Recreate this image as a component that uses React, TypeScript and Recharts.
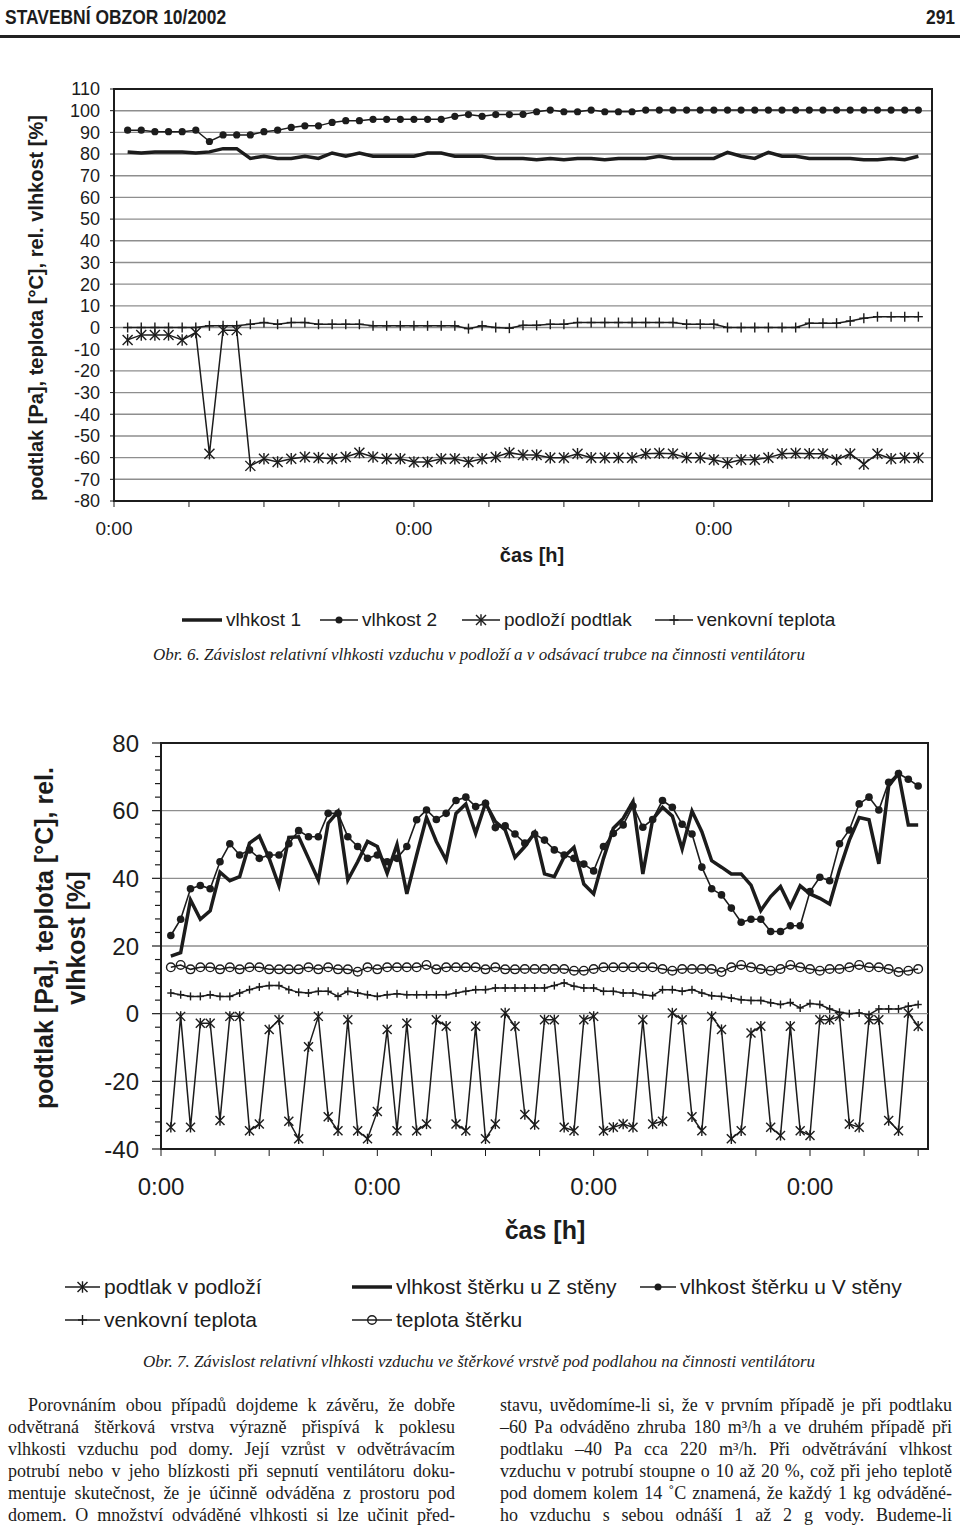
import React from "react";
import { LineChart, Line, XAxis, YAxis, CartesianGrid, ReferenceArea, ReferenceLine } from "recharts";

const INK = "#1c1c1c";
const GRID = "#8e8e8e";
const SANS = "'Liberation Sans', Arial, Helvetica, sans-serif";
const SERIF = "'Liberation Serif', 'Times New Roman', serif";

// ---- Obr. 6 (59 readings) ----
const vlhkost1 = [
  81, 80.5, 81, 81, 81, 80.5, 81, 82.5, 82.5, 78, 79, 78, 78, 79, 78, 80.5, 79, 80.5, 79, 79,
  79, 79, 80.5, 80.5, 79, 79, 79, 78, 78, 78, 77.4, 78, 77.4, 78, 78, 77.4, 78, 78, 78, 79,
  78, 78, 78, 78, 80.8, 79, 78, 80.8, 79, 79, 78, 78, 78, 78, 77.4, 77.4, 78, 77.4, 79,
];
const vlhkost2 = [
  91, 91, 90.3, 90.3, 90.3, 91, 85.8, 88.8, 88.8, 88.8, 90.3, 91, 92.3, 93, 93, 94.6, 95.4, 95.4, 96, 96,
  96, 96, 96, 96, 97.4, 98.2, 97.4, 98.2, 98.2, 98.3, 99.5, 100.3, 99.5, 99.5, 100.3, 99.5, 99.5, 99.5, 100.3, 100.3,
  100.3, 100.3, 100.3, 100.3, 100.3, 100.3, 100.3, 100.3, 100.3, 100.3, 100.3, 100.3, 100.3, 100.3, 100.3, 100.3, 100.3, 100.3, 100.3,
];
const podloziPodtlak = [
  -5.7, -3.4, -3.4, -3.4, -5.7, -2.3, -58.2, -1.2, -1.2, -63.8, -60.5, -62, -60.5, -59.7, -60, -60.5, -59.7, -57.7, -59.7, -60.5,
  -60.5, -62, -62, -60.5, -60.5, -62, -60.5, -59.7, -57.7, -58.8, -58.8, -60, -60, -58.2, -60, -60, -60, -60, -58.2, -58,
  -58.2, -60, -60, -61, -62.5, -61, -61, -60, -58.2, -58, -58.2, -58.2, -61, -58.2, -63, -58.2, -60.5, -60, -60,
];
const venkovniTeplota6 = [
  0, 0, 0, 0, 0, 0, 0.8, 0.8, 0.8, 1.5, 2.3, 1.5, 2.3, 2.3, 1.5, 1.5, 1.5, 1.5, 0.8, 0.8,
  0.8, 0.8, 0.8, 0.8, 0.8, -0.5, 0.8, 0, -0.3, 1, 1, 1.5, 1.5, 2.3, 2.3, 2.3, 2.3, 2.3, 2.3, 2.3,
  2.3, 1.5, 1.5, 1.5, 0, 0, 0, 0, 0, 0, 2, 2, 2, 3, 4.3, 5, 5, 5, 5,
];
const x6Ticks = [-1, 4.5, 10, 15.5, 21, 26.5, 32, 37.5, 43, 48.5, 54];
const x6Labels = [-1, 21, 43];
const y6Ticks = [-80, -70, -60, -50, -40, -30, -20, -10, 0, 10, 20, 30, 40, 50, 60, 70, 80, 90, 100, 110];

// ---- Obr. 7 (77 readings) ----
const podtlakPodlozi = [
  -33.6, -0.8, -33.6, -2.8, -2.8, -31.6, -0.8, -0.8, -34.6, -32.6, -4.7, -1.8, -31.8, -37, -9.8, -0.8, -30.5, -34.6, -1.8, -34.6,
  -37, -28.9, -4.7, -34.6, -2.8, -34.6, -32.6, -1.8, -3.7, -32.6, -34.6, -3.7, -37, -32.6, 0.2, -3.7,
  -29.8, -32.8, -1.8, -1.8, -33.6, -34.6, -1.8, -0.8, -34.6, -33.6, -32.6, -33.6, -1.8, -32.6, -31.8, 0.2, -1.8, -30.5, -34.6, -0.8,
  -4.7, -37, -34.6, -5.7, -3.7, -33.6, -36, -3.7, -34.6, -36, -1.8, -1.8, -0.8, -32.6, -33.6, -1.8, -1.8, -31.6, -34.6, 0.2, -3.7,
];
const vlhkostZ = [
  17, 18, 33.6, 27.9, 30.4, 41.8, 39.3, 40.5, 50.4, 52.5, 45.9, 37.8, 52.1, 52.3, 45.9, 39.5, 56.3, 59.7, 39.5, 44.9,
  50.9, 49.4, 41.5, 50, 35.4, 46.9, 58, 50.9, 45.4, 59.2, 62, 53.3, 62.2, 56.8, 54.3, 46.2,
  49.4, 53.5, 41.3, 40.5, 46.4, 49.2, 38.3, 35.4, 45.9, 54.8, 57.7, 62.7, 41.3, 57.4, 61, 58.4, 48.7, 59.9, 53.8, 45.2,
  43.3, 41.3, 41.3, 38, 30.5, 34.6, 37.6, 31.6, 37.8, 35.4, 34.1, 32.4, 42.5, 51.3, 58, 57.3, 44.3, 67.3, 71, 55.8, 55.8,
];
const vlhkostV = [
  23.1, 27.9, 36.9, 37.9, 36.9, 44.9, 50.2, 46.9, 48.4, 45.9, 46.9, 46.9, 50.2, 54.1, 52.3, 52.3, 59.2, 59.2, 52.3, 49.4,
  45.9, 46.9, 44.9, 45.9, 49.4, 57.3, 60.2, 57.4, 59.2, 63, 64, 61.2, 62.2, 55, 55.5, 53.1,
  50.4, 53.1, 51.3, 48.4, 46.9, 45.9, 44.2, 42.2, 49.4, 53.3, 55.8, 61.4, 55.1, 57.4, 63, 61, 56, 53.1, 43.3, 36.9,
  35.1, 31.2, 27, 27.9, 27.9, 24.3, 24.3, 26, 26, 36.1, 40.3, 39.3, 50.2, 54.3, 62, 64, 60.2, 68.4, 71, 69.3, 67.3,
];
const venkovniTeplota7 = [
  6.1, 5.6, 5.1, 5.1, 5.6, 5.1, 5.1, 6.1, 7.1, 7.9, 8.3, 8.3, 7.1, 6.3, 6.1, 6.6, 6.6, 5.1, 6.6, 6.1,
  5.6, 5.1, 5.6, 5.9, 5.6, 5.6, 5.6, 5.6, 5.6, 6.1, 6.6, 7.1, 7.1, 7.6, 7.6, 7.6,
  7.6, 7.6, 7.6, 8.3, 9.1, 8.1, 7.6, 7.6, 6.6, 6.6, 6.1, 6.1, 5.6, 5.3, 7.1, 7.1, 6.6, 7.1, 6.1, 5.3,
  5.1, 4.6, 4.1, 3.9, 3.9, 3.2, 2.7, 3.3, 1.7, 3, 2.7, 1.4, 0.4, 0, 0.2, -0.3, 1.4, 1.4, 1.4, 2.2, 2.7,
];
const teplotaSterku = [
  13.7, 14.4, 13.1, 13.7, 13.7, 13.1, 13.7, 13.1, 13.7, 13.7, 13.1, 13.1, 13.1, 13.1, 13.7, 13.1, 13.7, 13.1, 13.1, 12.4,
  13.7, 13.1, 13.7, 13.7, 13.7, 13.7, 14.4, 13.1, 13.7, 13.7, 13.7, 13.7, 13.1, 13.7, 13.1, 13.1,
  13.2, 13.2, 13.2, 13.2, 13.2, 12.7, 12.7, 13.2, 13.7, 13.7, 13.7, 13.7, 13.7, 13.7, 13.2, 12.7, 13.2, 13.2, 13.2, 13.2,
  12.3, 13.7, 14.4, 13.7, 13.2, 12.7, 13.2, 14.4, 13.7, 13.2, 12.7, 13.2, 13.2, 13.7, 14.4, 13.7, 13.7, 13.2, 12.3, 12.7, 13.2,
];
const x7Ticks = [-1, 4.5, 10, 15.5, 21, 26.5, 32, 37.5, 43, 48.5, 54, 59.5, 65, 70.5, 76];
const x7Labels = [-1, 21, 43, 65];
const y7Ticks = [-40, -36, -32, -28, -24, -20, -16, -12, -8, -4, 0, 4, 8, 12, 16, 20, 24, 28, 32, 36, 40, 44, 48, 52, 56, 60, 64, 68, 72, 76, 80];
const y7Grid = [-20, 0, 20, 40, 60];

const data6 = vlhkost1.map((v, i) => ({ i, v1: v, v2: vlhkost2[i], p: podloziPodtlak[i], t: venkovniTeplota6[i] }));
const data7 = vlhkostZ.map((v, i) => ({
  i, p: podtlakPodlozi[i], z: v, vv: vlhkostV[i], t: venkovniTeplota7[i], ts: teplotaSterku[i],
}));

function marker(kind: string, cx: number, cy: number, s: number, key?: string) {
  if (kind === "dot") return <circle key={key} cx={cx} cy={cy} r={s} fill={INK} />;
  if (kind === "ring") return <circle key={key} cx={cx} cy={cy} r={s} fill="none" stroke={INK} strokeWidth={1.4} />;
  if (kind === "star")
    return (
      <g key={key} stroke={INK} strokeWidth={1.4}>
        <line x1={cx - s} y1={cy - s} x2={cx + s} y2={cy + s} />
        <line x1={cx - s} y1={cy + s} x2={cx + s} y2={cy - s} />
        <line x1={cx} y1={cy - s * 1.15} x2={cx} y2={cy + s * 1.15} />
      </g>
    );
  if (kind === "plus")
    return (
      <g key={key} stroke={INK} strokeWidth={1.4}>
        <line x1={cx} y1={cy - s} x2={cx} y2={cy + s} />
        <line x1={cx - s * 0.9} y1={cy} x2={cx + s * 0.9} y2={cy} />
      </g>
    );
  return null;
}

const dotFn = (kind: string, s: number) => (p: any) =>
  p.cx == null || p.cy == null ? <g key={`e${p.index}`} /> : marker(kind, p.cx, p.cy, s, `${kind}${p.index}`);

function LegendIcon({ kind, w, thick }: { kind: string; w: number; thick?: boolean }) {
  return (
    <svg width={w} height={20} style={{ display: "block" }}>
      <line x1={0} x2={w} y1={10} y2={10} stroke={INK} strokeWidth={thick ? 3.5 : 1.5} />
      {kind !== "none" && marker(kind, w / 2, 10, kind === "dot" ? 3.5 : kind === "ring" ? 4.3 : 5)}
    </svg>
  );
}

function LegendItem({ x, y, kind, w, label, size, thick }: any) {
  return (
    <>
      <div style={{ position: "absolute", left: x, top: y - 10 }}>
        <LegendIcon kind={kind} w={w} thick={thick} />
      </div>
      <div style={{ position: "absolute", left: x + w + 4, top: y - 12, fontSize: size, lineHeight: "24px", whiteSpace: "nowrap" }}>
        {label}
      </div>
    </>
  );
}

function YTick7(props: any) {
  const { x, y, payload } = props;
  const v = payload.value;
  const major = v % 20 === 0;
  return (
    <g>
      <line x1={x - (major ? 9 : 6)} x2={x} y1={y} y2={y} stroke={INK} strokeWidth={1.2} />
      {major && (
        <text x={x - 22} y={y} dy="0.36em" textAnchor="end" fontSize={24} fill={INK} fontFamily={SANS}>
          {v}
        </text>
      )}
    </g>
  );
}

const leftLines = [
  "Porovnáním obou případů dojdeme k závěru, že dobře",
  "odvětraná štěrková vrstva výrazně přispívá k poklesu",
  "vlhkosti vzduchu pod domy. Její vzrůst v odvětrávacím",
  "potrubí nebo v jeho blízkosti při sepnutí ventilátoru doku-",
  "mentuje skutečnost, že je účinně odváděna z prostoru pod",
  "domem. O množství odváděné vlhkosti si lze učinit před-",
];
const rightLines = [
  "stavu, uvědomíme-li si, že v prvním případě je při podtlaku",
  "–60 Pa odváděno zhruba 180 m³/h a ve druhém případě při",
  "podtlaku –40 Pa cca 220 m³/h. Při odvětrávání vlhkost",
  "vzduchu v potrubí stoupne o 10 až 20 %, což při jeho teplotě",
  "pod domem kolem 14 ˚C znamená, že každý 1 kg odváděné-",
  "ho vzduchu s sebou odnáší 1 až 2 g vody. Budeme-li",
];

export default function App() {
  const axis = { stroke: INK, strokeWidth: 2 };
  const head = { position: "absolute" as const, top: 5, fontWeight: 700, fontSize: 21, lineHeight: "24px", whiteSpace: "nowrap" as const };
  const body = { position: "absolute" as const, fontFamily: SERIF, fontSize: 18, lineHeight: "22px", textAlign: "justify" as const, textAlignLast: "justify" as const, whiteSpace: "nowrap" as const };
  return (
    <div style={{ position: "absolute", left: 0, top: 0, width: 960, height: 1531, background: "#fff", color: INK, fontFamily: SANS, overflow: "hidden" }}>
      {/* page header */}
      <div style={{ ...head, left: 5, transform: "scaleX(0.83)", transformOrigin: "left center" }}>STAVEBNÍ OBZOR 10/2002</div>
      <div style={{ ...head, right: 5, transform: "scaleX(0.83)", transformOrigin: "right center" }}>291</div>
      <div style={{ position: "absolute", left: 0, top: 35, width: 960, height: 3, background: "#222" }} />

      {/* Obr. 6 */}
      <div style={{ position: "absolute", left: 0, top: 0 }}>
        <LineChart width={960} height={540} data={data6} margin={{ top: 89, right: 28, bottom: 0, left: 0 }}>
          <CartesianGrid vertical={false} stroke={GRID} strokeWidth={1.4} />
          <XAxis
            type="number" dataKey="i" domain={[-1, 59]} ticks={x6Ticks} interval={0} height={39}
            axisLine={axis} tickLine={{ stroke: INK }} tickSize={6} tickMargin={15}
            tick={{ fontSize: 19, fill: INK, fontFamily: SANS }}
            tickFormatter={(v: number) => (x6Labels.includes(v) ? "0:00" : "")}
          />
          <YAxis
            type="number" domain={[-80, 110]} ticks={y6Ticks} interval={0} width={114}
            axisLine={axis} tickLine={{ stroke: INK }} tickSize={4} tickMargin={10}
            tick={{ fontSize: 18, fill: INK, fontFamily: SANS }}
          />
          <ReferenceArea x1={-1} x2={59} y1={-80} y2={110} fill="none" stroke={INK} strokeWidth={2} />
          <Line dataKey="v1" stroke={INK} strokeWidth={3.5} dot={false} activeDot={false} isAnimationActive={false} />
          <Line dataKey="v2" stroke={INK} strokeWidth={1.5} dot={dotFn("dot", 3.6)} activeDot={false} isAnimationActive={false} />
          <Line dataKey="p" stroke={INK} strokeWidth={1.5} dot={dotFn("star", 5)} activeDot={false} isAnimationActive={false} />
          <Line dataKey="t" stroke={INK} strokeWidth={1.5} dot={dotFn("plus", 5)} activeDot={false} isAnimationActive={false} />
        </LineChart>
      </div>
      <div style={{ position: "absolute", left: 36, top: 308, transform: "translate(-50%, -50%) rotate(-90deg)", whiteSpace: "nowrap", fontWeight: 700, fontSize: 20 }}>
        podtlak [Pa], teplota [°C], rel. vlhkost [%]
      </div>
      <div style={{ position: "absolute", left: 532, top: 555, transform: "translate(-50%, -50%)", fontWeight: 700, fontSize: 20 }}>
        čas [h]
      </div>
      <LegendItem x={182} y={620} kind="none" thick w={40} size={19} label="vlhkost 1" />
      <LegendItem x={320} y={620} kind="dot" w={38} size={19} label="vlhkost 2" />
      <LegendItem x={462} y={620} kind="star" w={38} size={19} label="podloží podtlak" />
      <LegendItem x={655} y={620} kind="plus" w={38} size={19} label="venkovní teplota" />
      <div style={{ position: "absolute", left: 0, width: 958, top: 645, textAlign: "center", fontFamily: SERIF, fontStyle: "italic", fontSize: 17, lineHeight: "20px" }}>
        Obr. 6. Závislost relativní vlhkosti vzduchu v podloží a v odsávací trubce na činnosti ventilátoru
      </div>

      {/* Obr. 7 */}
      <div style={{ position: "absolute", left: 0, top: 700 }}>
        <LineChart width={960} height={500} data={data7} margin={{ top: 43, right: 32, bottom: 0, left: 0 }}>
          {y7Grid.map((g) => (
            <ReferenceLine key={g} y={g} stroke={GRID} strokeWidth={1.4} />
          ))}
          <XAxis
            type="number" dataKey="i" domain={[-1, 77]} ticks={x7Ticks} interval={0} height={51}
            axisLine={axis} tickLine={{ stroke: INK }} tickSize={7} tickMargin={22}
            tick={{ fontSize: 24, fill: INK, fontFamily: SANS }}
            tickFormatter={(v: number) => (x7Labels.includes(v) ? "0:00" : "")}
          />
          <YAxis
            type="number" domain={[-40, 80]} ticks={y7Ticks} interval={0} width={161}
            axisLine={axis} tickLine={false} tickSize={0} tickMargin={0} tick={<YTick7 />}
          />
          <ReferenceArea x1={-1} x2={77} y1={-40} y2={80} fill="none" stroke={INK} strokeWidth={2} />
          <Line dataKey="p" stroke={INK} strokeWidth={1.5} dot={dotFn("star", 4.5)} activeDot={false} isAnimationActive={false} />
          <Line dataKey="t" stroke={INK} strokeWidth={1.5} dot={dotFn("plus", 4)} activeDot={false} isAnimationActive={false} />
          <Line dataKey="ts" stroke={INK} strokeWidth={1.5} dot={dotFn("ring", 4.3)} activeDot={false} isAnimationActive={false} />
          <Line dataKey="z" stroke={INK} strokeWidth={3.5} dot={false} activeDot={false} isAnimationActive={false} />
          <Line dataKey="vv" stroke={INK} strokeWidth={1.6} dot={dotFn("dot", 3.8)} activeDot={false} isAnimationActive={false} />
        </LineChart>
      </div>
      <div style={{ position: "absolute", left: 60, top: 938, transform: "translate(-50%, -50%) rotate(-90deg)", whiteSpace: "nowrap", textAlign: "center", fontWeight: 700, fontSize: 25, lineHeight: "32px" }}>
        podtlak [Pa], teplota [°C], rel.
        <br />
        vlhkost [%]
      </div>
      <div style={{ position: "absolute", left: 545, top: 1230, transform: "translate(-50%, -50%)", fontWeight: 700, fontSize: 25 }}>
        čas [h]
      </div>
      <LegendItem x={65} y={1287} kind="star" w={35} size={21} label="podtlak v podloží" />
      <LegendItem x={352} y={1287} kind="none" thick w={40} size={21} label="vlhkost štěrku u Z stěny" />
      <LegendItem x={640} y={1287} kind="dot" w={36} size={21} label="vlhkost štěrku u V stěny" />
      <LegendItem x={65} y={1320} kind="plus" w={35} size={21} label="venkovní teplota" />
      <LegendItem x={352} y={1320} kind="ring" w={40} size={21} label="teplota štěrku" />
      <div style={{ position: "absolute", left: 0, width: 958, top: 1352, textAlign: "center", fontFamily: SERIF, fontStyle: "italic", fontSize: 17, lineHeight: "20px" }}>
        Obr. 7. Závislost relativní vlhkosti vzduchu ve štěrkové vrstvě pod podlahou na činnosti ventilátoru
      </div>

      {/* body text */}
      {leftLines.map((l, k) => (
        <div key={`l${k}`} style={{ ...body, left: k === 0 ? 28 : 8, width: k === 0 ? 427 : 447, top: 1394 + k * 22 }}>
          {l}
        </div>
      ))}
      {rightLines.map((l, k) => (
        <div key={`r${k}`} style={{ ...body, left: 500, width: 452, top: 1394 + k * 22 }}>
          {l}
        </div>
      ))}
    </div>
  );
}
